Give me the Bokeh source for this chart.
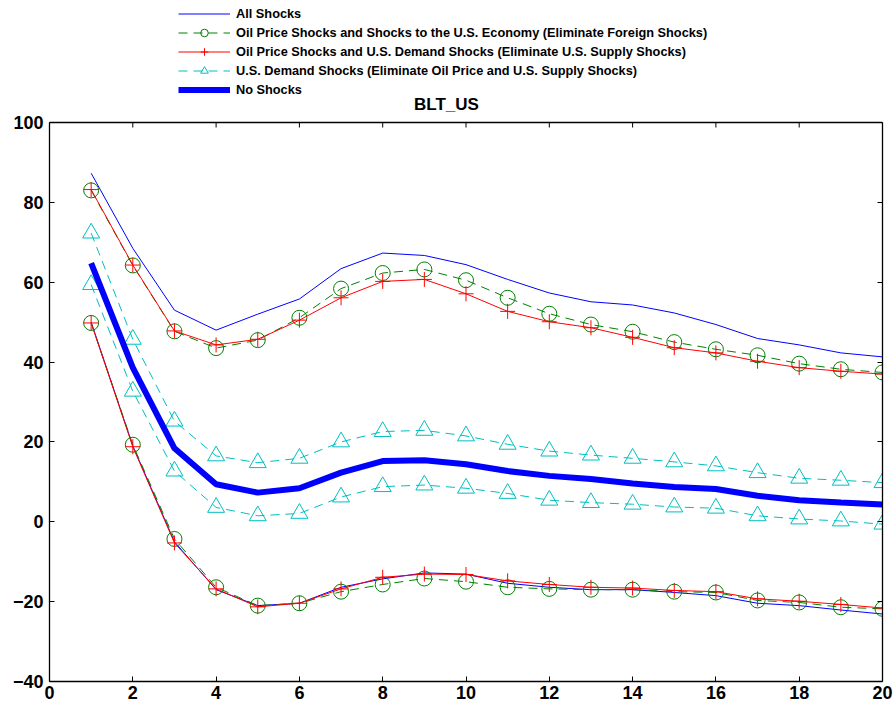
from bokeh.plotting import figure
from bokeh.models import (Legend, LegendItem, LinearAxis, FixedTicker, Range1d, Label, Span)
from bokeh.embed import file_html
from bokeh.resources import INLINE

horizon = list(range(1, 21))

all_upper = [87.3, 68.5, 53.0, 48.0, 52.0, 55.8, 63.4, 67.3, 66.7, 64.4, 60.7, 57.3, 55.1, 54.3, 52.3, 49.4, 45.9, 44.3, 42.3, 41.3]
all_lower = [50.0, 19.0, -5.0, -17.0, -21.0, -20.4, -16.4, -14.3, -12.8, -13.1, -15.4, -16.4, -17.0, -17.0, -17.7, -18.5, -20.4, -21.0, -22.1, -23.1]

nofor_upper = [83.0, 64.2, 47.7, 43.5, 45.5, 51.1, 58.4, 62.3, 63.2, 60.5, 56.1, 52.1, 49.4, 47.6, 45.0, 43.2, 41.7, 39.6, 38.2, 37.4]
nofor_lower = [49.8, 19.3, -4.3, -16.4, -21.0, -20.4, -17.5, -15.7, -14.2, -15.0, -16.4, -16.8, -17.0, -17.0, -17.5, -17.7, -19.7, -20.2, -21.4, -21.8]

nosup_upper = [83.2, 64.3, 47.8, 44.3, 45.7, 50.5, 56.1, 60.2, 60.7, 57.1, 52.7, 50.1, 48.6, 46.2, 43.6, 42.3, 40.2, 38.6, 37.7, 37.0]
nosup_lower = [49.8, 18.8, -5.3, -16.8, -21.3, -20.4, -16.8, -13.9, -13.1, -13.2, -14.8, -15.7, -16.4, -16.6, -17.2, -17.5, -19.3, -19.9, -20.7, -21.6]

dem_upper = [72.3, 45.7, 25.2, 16.5, 14.8, 15.9, 20.0, 22.6, 22.9, 21.5, 19.4, 17.7, 16.7, 15.9, 15.0, 14.0, 12.3, 10.9, 10.4, 9.8]
dem_lower = [59.4, 32.7, 12.7, 3.6, 1.5, 2.1, 6.2, 8.8, 9.2, 8.4, 7.1, 5.4, 4.8, 4.4, 3.7, 3.4, 1.5, 0.7, 0.2, -0.6]

no_shocks = [64.8, 38.6, 18.4, 9.4, 7.3, 8.4, 12.3, 15.2, 15.4, 14.4, 12.7, 11.5, 10.7, 9.6, 8.7, 8.2, 6.5, 5.4, 4.8, 4.3]

x_ticks = [0, 2, 4, 6, 8, 10, 12, 14, 16, 18, 20]
y_ticks = [-40, -20, 0, 20, 40, 60, 80, 100]

legend_labels = [
    "All Shocks",
    "Oil Price Shocks and Shocks to the U.S. Economy (Eliminate Foreign Shocks)",
    "Oil Price Shocks and U.S. Demand Shocks (Eliminate U.S. Supply Shocks)",
    "U.S. Demand Shocks (Eliminate Oil Price and U.S. Supply Shocks)",
    "No Shocks",
]
chart_title = "BLT_US"

FONT = "Liberation Sans"
Y_MIN, Y_MAX = -40, 100
# the frame reaches the top of the page so the legend and the title (outside the box) are not clipped
Y_TOP = Y_MAX + 122 * (Y_MAX - Y_MIN) / 559.0

p = figure(width=896, height=711, output_backend="svg", toolbar_location=None,
           x_range=Range1d(0, 20), y_range=Range1d(Y_MIN, Y_TOP),
           min_border_left=49, min_border_right=14, min_border_top=0, min_border_bottom=30,
           x_axis_location=None, y_axis_location=None)
p.grid.visible = False
p.outline_line_color = None
p.background_fill_color = "white"
p.border_fill_color = "white"

def make_axis(loc, show_labels):
    ax = LinearAxis()
    ax.ticker = FixedTicker(ticks=x_ticks if loc in ("below", "above") else y_ticks)
    if loc in ("left", "right"):
        ax.bounds = (Y_MIN, Y_MAX)
    ax.major_tick_in = 5
    ax.major_tick_out = 0
    ax.minor_tick_line_color = None
    ax.axis_line_color = "black"
    ax.axis_line_width = 1.3
    ax.major_tick_line_color = "black"
    ax.major_label_text_font = FONT
    ax.major_label_text_font_style = "bold"
    ax.major_label_text_font_size = "18px"
    ax.major_label_text_color = "black"
    ax.major_label_standoff = 6 if loc == "left" else 4
    if not show_labels:
        ax.major_label_text_font_size = "0px"
        ax.major_label_text_color = None
        ax.major_label_standoff = 0
    p.add_layout(ax, loc)
    return ax

make_axis("below", True)
make_axis("left", True)
make_axis("right", False)

# top edge of the axes box, with inward ticks at the x tick values
p.add_layout(Span(location=Y_MAX, dimension="width", line_color="black", line_width=1.3))
tick_len = 5 * (Y_TOP - Y_MIN) / 681.0
p.segment(x0=x_ticks, y0=[Y_MAX] * len(x_ticks), x1=x_ticks, y1=[Y_MAX - tick_len] * len(x_ticks),
          line_color="black", line_width=1)

BLUE = "#0000FF"
GREEN = "#008000"
RED = "#FF0000"
CYAN = "#00BFBF"

r_all_u = p.line(horizon, all_upper, line_color=BLUE, line_width=1)
p.line(horizon, all_lower, line_color=BLUE, line_width=1)

r_nf_u = p.line(horizon, nofor_upper, line_color=GREEN, line_width=1, line_dash="9 6")
r_nf_um = p.scatter(horizon, nofor_upper, marker="circle", size=15, fill_color=None, line_color=GREEN, line_width=1)
p.line(horizon, nofor_lower, line_color=GREEN, line_width=1, line_dash="9 6")
p.scatter(horizon, nofor_lower, marker="circle", size=15, fill_color=None, line_color=GREEN, line_width=1)

r_ns_u = p.line(horizon, nosup_upper, line_color=RED, line_width=1)
r_ns_um = p.scatter(horizon, nosup_upper, marker="cross", size=15, line_color=RED, line_width=1)
p.line(horizon, nosup_lower, line_color=RED, line_width=1)
p.scatter(horizon, nosup_lower, marker="cross", size=15, line_color=RED, line_width=1)

r_d_u = p.line(horizon, dem_upper, line_color=CYAN, line_width=1, line_dash="9 6")
r_d_um = p.scatter(horizon, dem_upper, marker="triangle", size=17, fill_color=None, line_color=CYAN, line_width=1)
p.line(horizon, dem_lower, line_color=CYAN, line_width=1, line_dash="9 6")
p.scatter(horizon, dem_lower, marker="triangle", size=17, fill_color=None, line_color=CYAN, line_width=1)

r_none = p.line(horizon, no_shocks, line_color=BLUE, line_width=6)

legend = Legend(items=[
    LegendItem(label=legend_labels[0], renderers=[r_all_u]),
    LegendItem(label=legend_labels[1], renderers=[r_nf_u, r_nf_um]),
    LegendItem(label=legend_labels[2], renderers=[r_ns_u, r_ns_um]),
    LegendItem(label=legend_labels[3], renderers=[r_d_u, r_d_um]),
    LegendItem(label=legend_labels[4], renderers=[r_none]),
], location=(129, 582))
legend.padding = 0
legend.margin = 0
legend.spacing = 0
legend.glyph_width = 52
legend.glyph_height = 19
legend.label_height = 19
legend.label_standoff = 6
legend.label_text_font = FONT
legend.label_text_font_style = "bold"
legend.label_text_font_size = "12.75px"
legend.label_text_color = "black"
legend.background_fill_alpha = 0
legend.border_line_color = None
p.add_layout(legend, "center")

title = Label(x=9.53, y=Y_MAX, text=chart_title, text_align="center", text_baseline="bottom",
              y_offset=9, text_font=FONT, text_font_style="bold", text_font_size="17px",
              text_color="black")
p.add_layout(title)

open("out.html", "w").write(file_html(p, INLINE))
